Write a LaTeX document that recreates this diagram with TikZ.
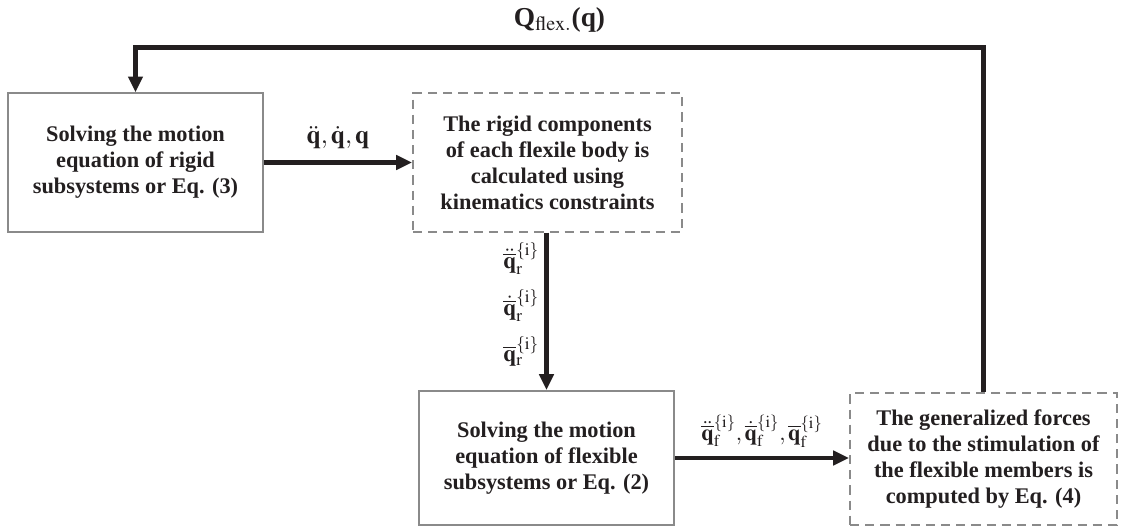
\documentclass[tikz,border=0pt]{standalone}
\usepackage{mathptmx}
\usepackage{fontspec}
\setmainfont{Liberation Serif}
\usetikzlibrary{arrows.meta}
\definecolor{borde}{HTML}{8A8A8A}
\definecolor{ink}{HTML}{231F20}

\begin{document}
\begin{tikzpicture}[
x=0.6pt,
y=-0.6pt,
font=\fontsize{13.4}{15.6}\selectfont\bfseries,
text=ink,
solver/.style={
    draw=borde,
    line width=1.2pt,
    align=center,
    minimum width=153pt,
    minimum height=83pt,
    inner sep=2pt
},
calcbox/.style={
    draw=borde,
    line width=1.2pt,
    dash pattern=on 5.5pt off 3.6pt,
    align=center,
    inner sep=2pt
},
flow/.style={
    -{Triangle[length=9.5pt,width=8.5pt]},
    draw=ink,
    line width=2.8pt
},
etiqueta/.style={
    font=\fontsize{13.5}{15}\selectfont,
    inner sep=2pt
}
]
\useasboundingbox (0,0) rectangle (1125,528);

% Blocks
\node[solver] (rigido) at (135.5,162.5) {
Solving the motion\\
equation of rigid\\
subsystems or Eq. (3)
};

\node[calcbox, minimum width=161.4pt, minimum height=83pt] (cinematica) at (547.5,162.5) {
The rigid components\\
of each flexile body is\\
calculated using\\
kinematics constraints
};

\node[solver, minimum height=80.4pt] (flexible) at (546.5,458) {
Solving the motion\\
equation of flexible\\
subsystems or Eq. (2)
};

\node[calcbox, minimum width=160.2pt, minimum height=79.2pt] (fuerzas) at (983.5,459) {
The generalized forces\\
due to the stimulation of\\
the flexible members is\\
computed by Eq. (4)
};

% Forward arrows
\draw[flow]
(rigido.east) --
node[etiqueta, above=5pt, font=\fontsize{15.4}{17}\selectfont]
{$\ddot{\mathbf{q}},\dot{\mathbf{q}},\mathbf{q}$}
(cinematica.west);

\draw[flow]
(cinematica.south -| flexible.north) --
node[
    etiqueta,
    midway,
    left=1pt,
    yshift=4pt,
    align=center,
    font=\fontsize{14}{15}\selectfont
] {$\ddot{\overline{\mathbf{q}}}_{\mathrm{r}}^{\{\mathrm{i}\}}$\\[8pt]
$\dot{\overline{\mathbf{q}}}_{\mathrm{r}}^{\{\mathrm{i}\}}$\\[8pt]
$\overline{\mathbf{q}}_{\mathrm{r}}^{\{\mathrm{i}\}}$}
(flexible.north);

\draw[flow]
(flexible.east) --
node[etiqueta, above=3pt]
{$\ddot{\overline{\mathbf{q}}}_{\mathrm{f}}^{\{\mathrm{i}\}},\dot{\overline{\mathbf{q}}}_{\mathrm{f}}^{\{\mathrm{i}\}},\overline{\mathbf{q}}_{\mathrm{f}}^{\{\mathrm{i}\}}$}
(flexible.east -| fuerzas.west);

% Feedback loop
\coordinate (tope) at (560,47.5);

\draw[flow]
(fuerzas.north) --
(fuerzas.north |- tope) --
node[
    etiqueta,
    above=6pt,
    font=\fontsize{16.4}{18}\selectfont\bfseries
] {Q$_{\mathrm{flex.}}$(q)}
(rigido.north |- tope) --
(rigido.north);

\end{tikzpicture}
\end{document}
